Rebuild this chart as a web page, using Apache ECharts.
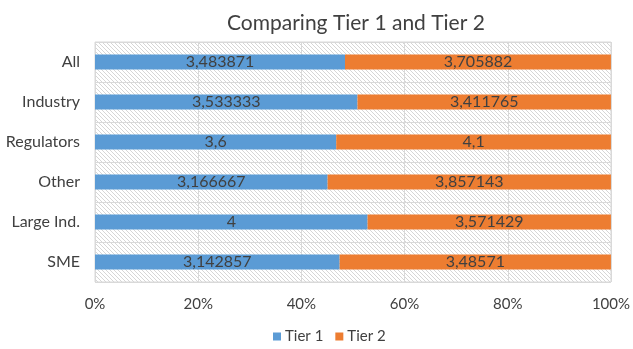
<!DOCTYPE html>
<html>
<head>
<meta charset="utf-8">
<script src="https://cdn.jsdelivr.net/npm/echarts@6/dist/echarts.min.js"></script>
<style>
  html, body { margin: 0; padding: 0; background: #fff; }
  #chart { width: 633px; height: 349px; }
</style>
</head>
<body>
<div id="chart"></div>
<script>
// Groups, top to bottom
const categories = ['All', 'Industry', 'Regulators', 'Other', 'Large Ind.', 'SME'];
// Mean scores per tier
const tier1 = [3.483871, 3.533333, 3.6, 3.166667, 4, 3.142857];
const tier2 = [3.705882, 3.411765, 4.1, 3.857143, 3.571429, 3.48571];
const seriesNames = ['Tier 1', 'Tier 2'];
const xTicks = [0, 20, 40, 60, 80, 100];

const FONT = "Lato, 'Open Sans', sans-serif";

// Light diagonal hatch used as the plot background
function hatchPattern() {
  const c = document.createElement('canvas');
  c.width = 4; c.height = 4;
  const ctx = c.getContext('2d');
  ctx.fillStyle = '#ffffff';
  ctx.fillRect(0, 0, 4, 4);
  ctx.strokeStyle = '#d6d6d6';
  ctx.lineWidth = 1;
  ctx.beginPath();
  ctx.moveTo(-1, -1); ctx.lineTo(5, 5);
  ctx.moveTo(-1, 3); ctx.lineTo(1, 5);
  ctx.moveTo(3, -1); ctx.lineTo(5, 1);
  ctx.stroke();
  return { image: c, repeat: 'repeat' };
}

// Share of each tier within its row (100% stacked)
const share = (a, b) => a.map((v, i) => v / (v + b[i]) * 100);
const pct1 = share(tier1, tier2);
const pct2 = share(tier2, tier1);

const fmt = v => String(v).replace('.', ',');

function barSeries(name, pct, raw, color) {
  return {
    name: name,
    type: 'bar',
    stack: 'total',
    barWidth: 15,
    itemStyle: { color: color },
    label: {
      show: true,
      position: 'inside',
      color: '#404040',
      fontFamily: FONT,
      fontSize: 16,
      formatter: p => fmt(raw[p.dataIndex])
    },
    data: pct
  };
}

const chart = echarts.init(document.getElementById('chart'));
chart.setOption({
  animation: false,
  backgroundColor: '#ffffff',
  textStyle: { fontFamily: FONT },
  title: {
    text: 'Comparing Tier 1 and Tier 2',
    left: 222,
    top: 8,
    textStyle: { color: '#404040', fontSize: 21, fontWeight: 'normal', fontFamily: FONT }
  },
  legend: {
    data: seriesNames,
    bottom: 0,
    left: 268,
    icon: 'rect',
    itemWidth: 8,
    itemHeight: 8,
    itemGap: 12,
    itemStyle: { borderWidth: 0 },
    textStyle: { color: '#404040', fontSize: 15, fontFamily: FONT, padding: [0, 0, 0, -1] }
  },
  grid: {
    left: 95, right: 20, top: 42, bottom: 67,
    show: true,
    backgroundColor: hatchPattern(),
    borderColor: '#d9d9d9',
    borderWidth: 1
  },
  xAxis: {
    type: 'value',
    min: xTicks[0],
    max: xTicks[xTicks.length - 1],
    interval: 20,
    axisLine: { show: false },
    axisTick: { show: false },
    axisLabel: { formatter: '{value}%', color: '#404040', fontSize: 15, fontFamily: FONT, margin: 15 },
    splitLine: { lineStyle: { color: '#d9d9d9', width: 1 } }
  },
  yAxis: {
    type: 'category',
    inverse: true,
    data: categories,
    axisLine: { show: false },
    axisTick: { show: false },
    axisLabel: { color: '#404040', fontSize: 16, fontFamily: FONT, margin: 15 },
    splitLine: { show: true, lineStyle: { color: '#d9d9d9', width: 1 } }
  },
  series: [
    barSeries(seriesNames[0], pct1, tier1, '#5b9bd5'),
    barSeries(seriesNames[1], pct2, tier2, '#ed7d31')
  ]
});
</script>
</body>
</html>
